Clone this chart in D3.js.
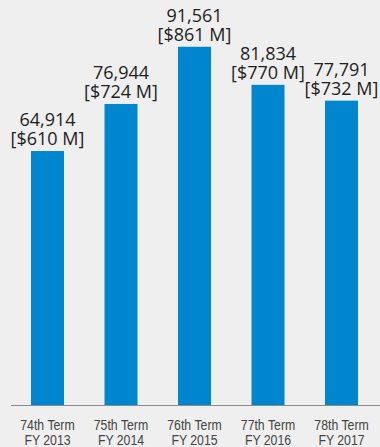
<!DOCTYPE html>
<meta charset="utf-8">
<style>
body {
  margin: 0;
  background: #efefef;
}
svg {
  display: block;
  background: #efefef;
}
.value {
  font-family: "Open Sans", "Noto Sans", sans-serif;
  font-size: 18px;
  fill: #1e1e1e;
}
.tick-label {
  font-family: "Liberation Sans", Arial, sans-serif;
  font-size: 15px;
  fill: #444;
}
</style>
<body>
<script src="https://cdn.jsdelivr.net/npm/d3@7"></script>
<script>

var width = 380,
    height = 447;

var terms = ["74th Term", "75th Term", "76th Term", "77th Term", "78th Term"];
var years = ["FY 2013", "FY 2014", "FY 2015", "FY 2016", "FY 2017"];
var counts = [64914, 76944, 91561, 81834, 77791];
var amounts = ["[$610 M]", "[$724 M]", "[$861 M]", "[$770 M]", "[$732 M]"];

var data = terms.map(function(t, i) {
  return {term: t, year: years[i], count: counts[i], amount: amounts[i]};
});

var x = d3.scaleBand()
    .domain(terms)
    .range([11, 378])
    .paddingInner(0.551)
    .paddingOuter(0.272);

// zero sits on the baseline, about 255.6 per pixel
var y = d3.scaleLinear()
    .domain([0, 91561])
    .range([405, 405 - 91561 / 255.6]);

var svg = d3.select("body").append("svg")
    .attr("width", width)
    .attr("height", height);

svg.selectAll(".bar")
    .data(data)
  .enter().append("rect")
    .attr("class", "bar")
    .attr("x", function(d) { return x(d.term); })
    .attr("width", x.bandwidth())
    .attr("y", function(d) { return y(d.count); })
    .attr("height", function(d) { return y(0) - y(d.count); })
    .attr("fill", "#0086cf");

svg.append("line")
    .attr("x1", 11)
    .attr("x2", 380)
    .attr("y1", y(0) + 0.5)
    .attr("y2", y(0) + 0.5)
    .attr("stroke", "#8a8a8a")
    .attr("stroke-width", 1);

var fmt = d3.format(",");

var labels = svg.selectAll(".value")
    .data(data)
  .enter().append("text")
    .attr("class", "value")
    .attr("text-anchor", "middle")
    .attr("transform", function(d) {
      return "translate(" + (x(d.term) + x.bandwidth() / 2) + "," + y(d.count) + ")";
    });

labels.append("tspan")
    .attr("x", 0)
    .attr("y", -25)
    .text(function(d) { return fmt(d.count); });

labels.append("tspan")
    .attr("x", 0)
    .attr("y", -6)
    .text(function(d) { return d.amount; });

// condensed look: squeeze the regular face horizontally
var ticks = svg.selectAll(".tick-label")
    .data(data)
  .enter().append("text")
    .attr("class", "tick-label")
    .attr("text-anchor", "middle")
    .attr("transform", function(d) {
      return "translate(" + (x(d.term) + x.bandwidth() / 2) + ",0) scale(0.82,1)";
    });

ticks.append("tspan")
    .attr("x", 0)
    .attr("y", 430)
    .text(function(d) { return d.term; });

ticks.append("tspan")
    .attr("x", 0)
    .attr("y", 445)
    .text(function(d) { return d.year; });

</script>
